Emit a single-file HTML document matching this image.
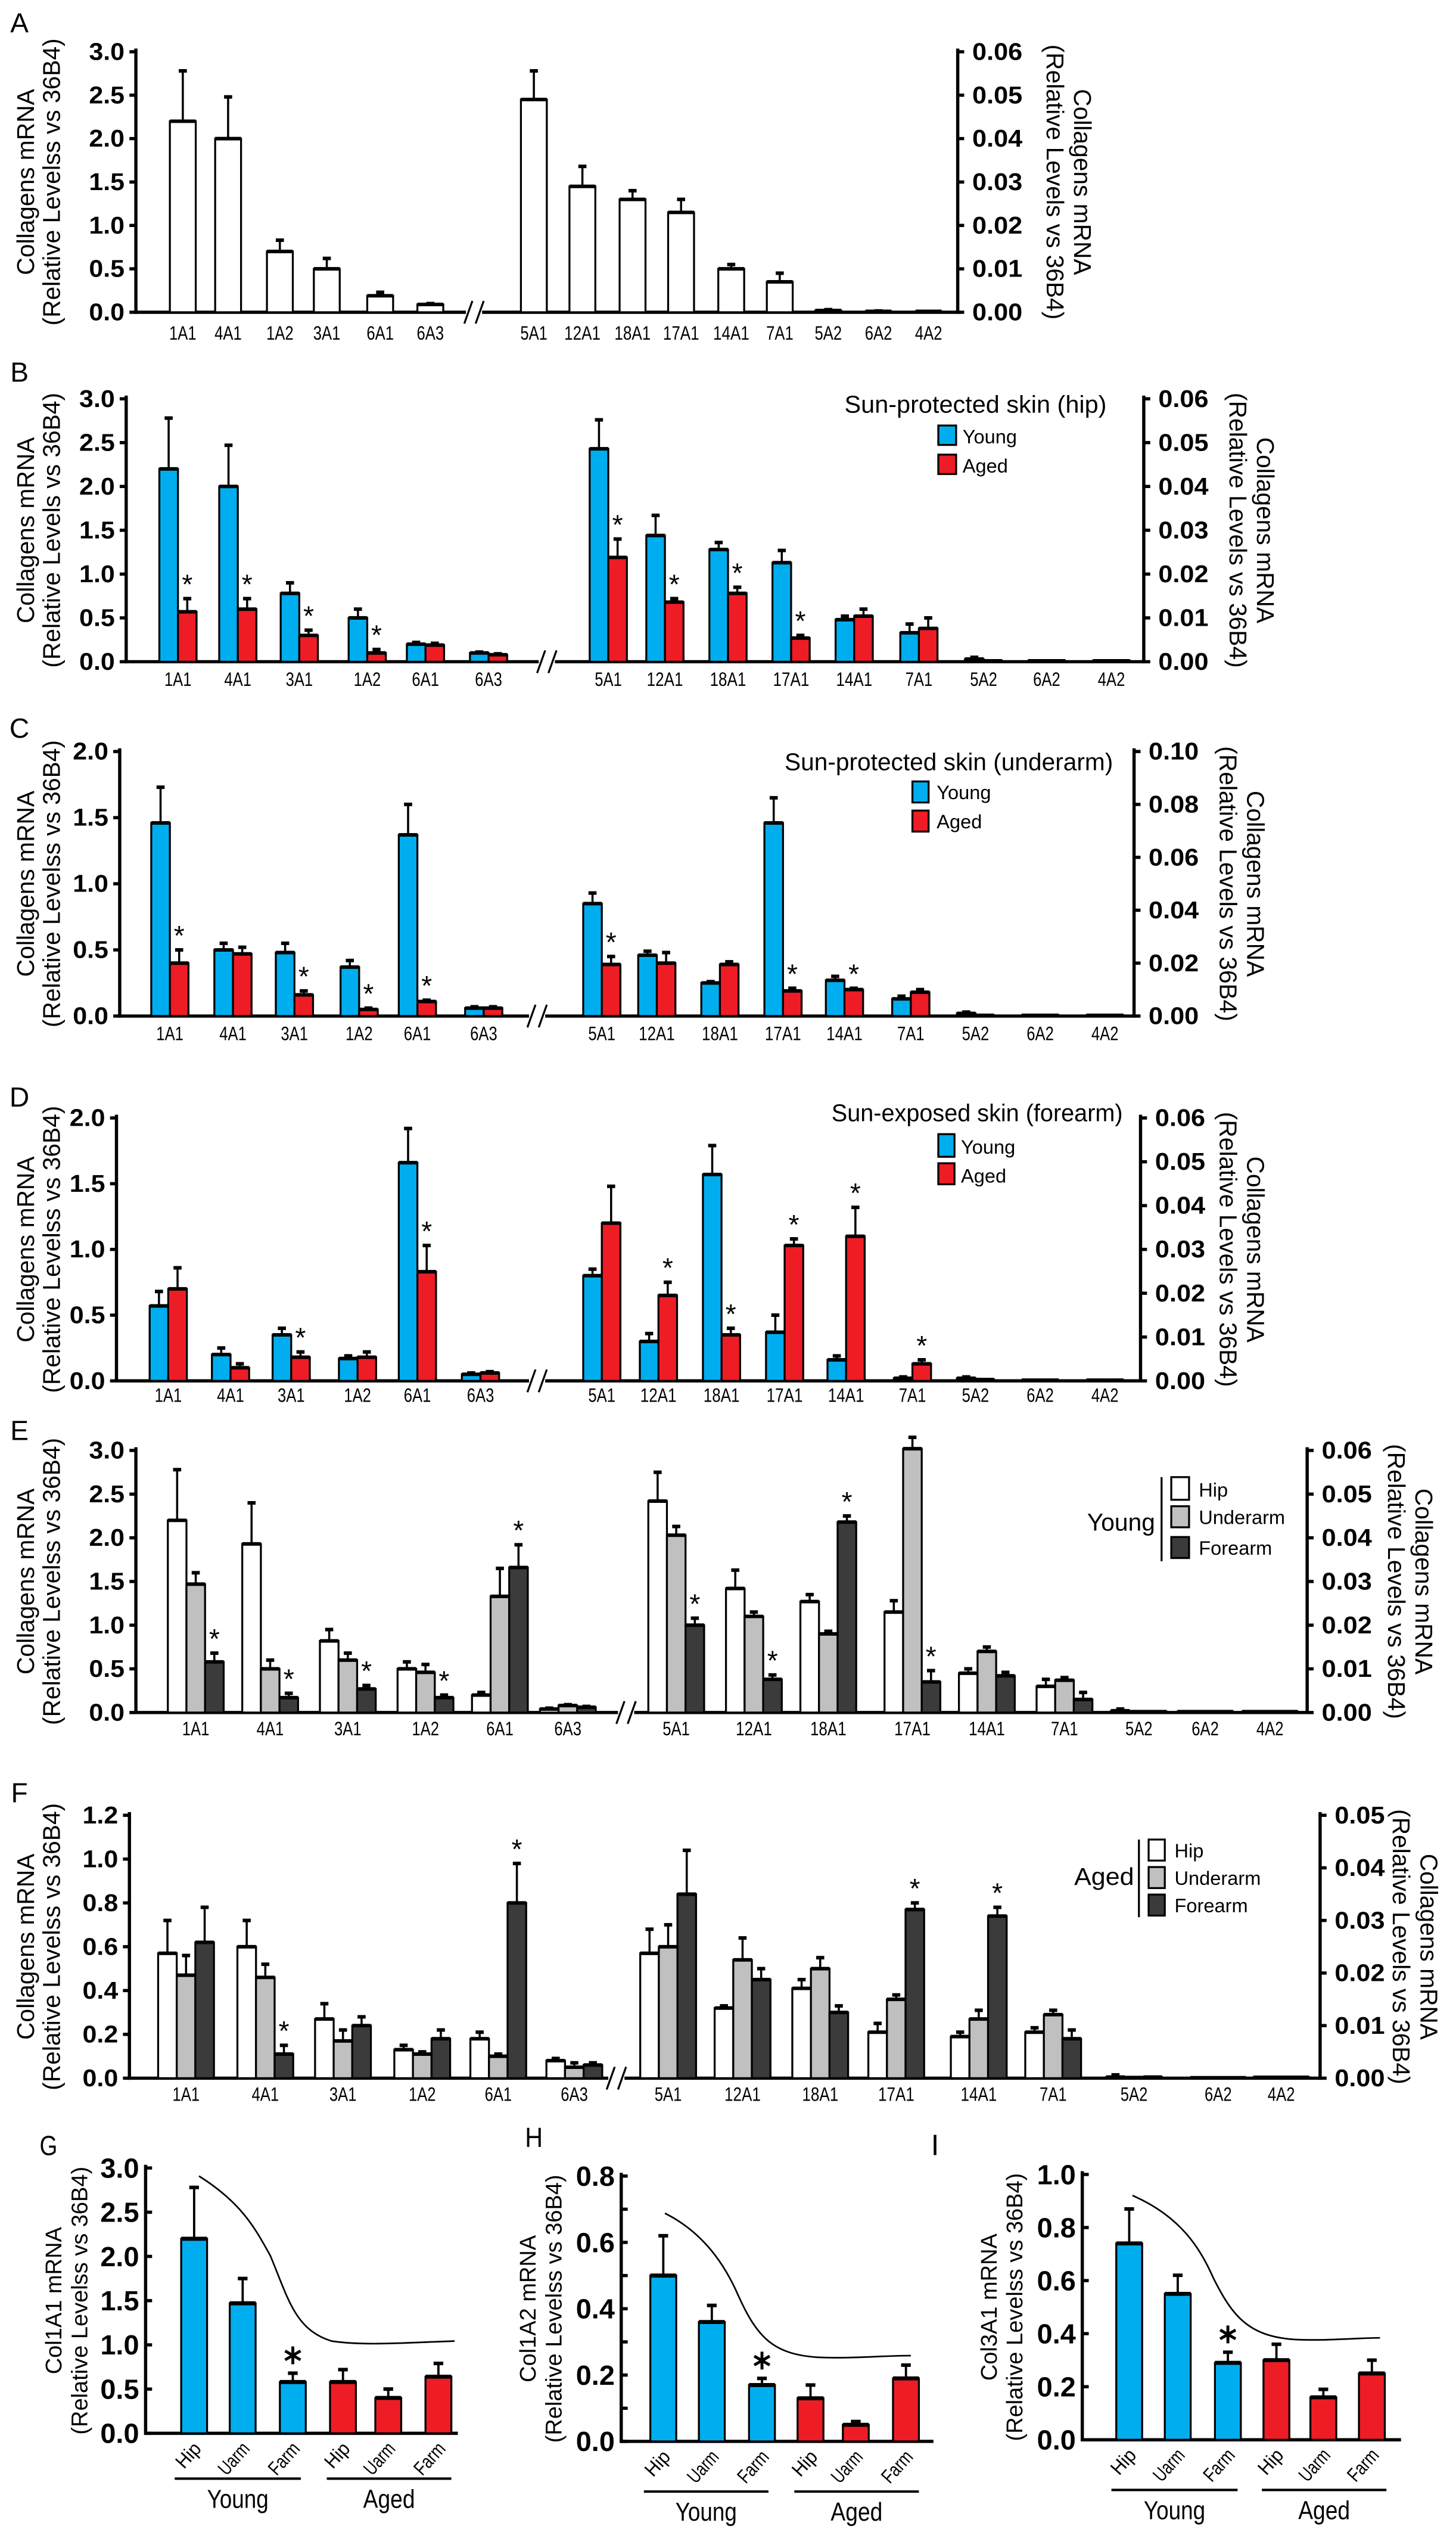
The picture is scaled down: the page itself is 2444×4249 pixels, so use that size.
<!DOCTYPE html>
<html><head><meta charset="utf-8"><style>
html,body{margin:0;padding:0;background:#fff}
svg{display:block}
text{font-family:"Liberation Sans",sans-serif}
</style></head><body>
<svg id="s" xmlns="http://www.w3.org/2000/svg" width="2444" height="4249" viewBox="0 0 900 1565" preserveAspectRatio="none"></svg>
<script>
const S=document.getElementById('s');let h='';
function T(x,y,t,o){o=o||{};h+=`<text x="${x}" y="${y}" font-size="${o.fs||12}" ${o.b?'font-weight="bold"':''} text-anchor="${o.a||'middle'}" ${o.r!=null?`transform="rotate(${o.r} ${x} ${y})"`:''} ${o.f?`font-family="${o.f}"`:''} ${o.sx?`textLength="${o.sx}" lengthAdjust="spacingAndGlyphs"`:''}>${t}</text>`;}
function L(x1,y1,x2,y2,w){h+=`<line x1="${x1}" y1="${y1}" x2="${x2}" y2="${y2}" stroke="#000" stroke-width="${w||1.5}"/>`;}
function R(x,y,w,hh,f){h+=`<rect x="${x}" y="${y}" width="${w}" height="${hh}" fill="${f}" stroke="#000" stroke-width="1.2"/>`;}
function star(cx,cy,r,w){L(cx,cy-r,cx,cy+r,w);const dx=r*0.866,dy=r*0.5;L(cx-dx,cy-dy,cx+dx,cy+dy,w);L(cx-dx,cy+dy,cx+dx,cy-dy,w);}
function panel(o){
 const sc=v=>o.y0-(v/o.max)*(o.y0-o.yt);
 L(o.xl,o.yt-2,o.xl,o.y0+1,2);L(o.xl,o.y0,o.xr,o.y0,2);
 L(o.xr,o.yt-2,o.xr,o.y0+1,2);
 o.lt.forEach(v=>{const y=sc(v);L(o.xl-4,y,o.xl,y,2);T(o.xl-7,y+5,v.toFixed(1),{fs:15,b:1,a:'end',sx:22});});
 o.rt.forEach((l,i)=>{const y=sc(o.max*i/(o.rt.length-1));L(o.xr,y,o.xr+4,y,2);T(o.xr+9,y+5,l,{fs:15,b:1,a:'start',sx:31});});
 const n=o.colors.length,bw=o.bw;
 o.cats.forEach(c=>{
  const x0=c.x-n*bw/2;
  c.v.forEach((d,i)=>{const [v,e,st]=d;const x=x0+i*bw;const y=sc(v);R(x,y,bw,o.y0-y,o.colors[i]);
   L(x,y,x+bw,y,2.2);
   if(e&&e>v){const ye=sc(e),cx=x+bw/2;L(cx,y,cx,ye,1.3);L(cx-2.5,ye,cx+2.5,ye,2.2);}
   if(st){T(x+bw/2,sc(e||v)-3,'*',{fs:17});}
  });
  T(c.x,o.y0+(o.ly||15),c.n,{fs:12,sx:c.n.length*5.6});
 });
 if(o.brk){h+=`<rect x="${o.brk-5}" y="${o.y0-3}" width="10" height="6" fill="#fff"/>`;L(o.brk-6,o.y0+7,o.brk-1,o.y0-7,1.2);L(o.brk+1,o.y0+7,o.brk+6,o.y0-7,1.2);}
 const cy=(o.yt+o.y0)/2;
 T(o.lx||21,cy,'Collagens mRNA',{fs:15,r:-90});T((o.lx||21)+16,cy,o.l2||'(Relative Levelss vs 36B4)',{fs:15,r:-90});
 T(o.rx,cy,'Collagens mRNA',{fs:15,r:90});T(o.rx-17,cy,'(Relative Levels vs 36B4)',{fs:15,r:90});
}
const mk=(names,xs,vals)=>names.map((n,i)=>({n,x:xs[i],v:vals[i]}));
const B='#00aeef',Rd='#ee1c25',W='#fff',G='#c0c0c1',D='#3b3b3b';
const N1=['1A1','4A1','1A2','3A1','6A1','6A3','5A1','12A1','18A1','17A1','14A1','7A1','5A2','6A2','4A2'];
const N2=['1A1','4A1','3A1','1A2','6A1','6A3','5A1','12A1','18A1','17A1','14A1','7A1','5A2','6A2','4A2'];
// A
T(12,20,'A',{fs:17});
panel({yt:32,y0:193,max:3,xl:84,xr:592,lt:[0,.5,1,1.5,2,2.5,3],rt:['0.00','0.01','0.02','0.03','0.04','0.05','0.06'],rx:664,bw:16,colors:[W],brk:293,ly:17,
cats:mk(N1,[113,141,173,202,235,266,330,360,391,421,452,482,512,543,574],
[[[2.2,2.78]],[[2,2.48]],[[.7,.83]],[[.5,.62]],[[.19,.23]],[[.09,.1]],[[2.45,2.78]],[[1.45,1.68]],[[1.3,1.4]],[[1.15,1.3]],[[.5,.55]],[[.35,.45]],[[.02,.03]],[[.01,.015]],[[.01,.01]]])});
// B
T(12,236,'B',{fs:17});
panel({yt:246.5,y0:409,max:3,xl:78,xr:707,lt:[0,.5,1,1.5,2,2.5,3],rt:['0.00','0.01','0.02','0.03','0.04','0.05','0.06'],rx:777,l2:'(Relative Levels vs 36B4)',bw:11.5,colors:[B,Rd],brk:338,ly:15,
cats:mk(N2,[110,147,185,227,263,302,376,411,450,489,528,568,608,647,687],
[[[2.2,2.78],[.57,.72,1]],[[2,2.47],[.6,.72,1]],[[.78,.9],[.3,.36,1]],[[.5,.6],[.1,.14,1]],[[.2,.22],[.19,.21]],[[.1,.11],[.08,.09]],
[[2.43,2.76],[1.19,1.4,1]],[[1.44,1.67],[.68,.72,1]],[[1.28,1.36],[.78,.85,1]],[[1.13,1.27],[.27,.3,1]],[[.48,.52],[.52,.6]],[[.33,.43],[.38,.5]],[[.03,.05],[.01,.01]],[[.01,.01],[.01,.01]],[[.01,.01],[.01,.01]]])});
T(522,255,'Sun-protected skin (hip)',{fs:15,a:'start',sx:162});
R(580,263,11,12,B);T(595,274,'Young',{fs:12,a:'start'});R(580,281,11,12,Rd);T(595,292,'Aged',{fs:12,a:'start'});
// C
T(12,456,'C',{fs:17});
panel({yt:464.5,y0:628,max:2,xl:74,xr:701,lt:[0,.5,1,1.5,2],rt:['0.00','0.02','0.04','0.06','0.08','0.10'],rx:771,bw:11.5,colors:[B,Rd],brk:332,ly:15,
cats:mk(N2,[105,144,182,222,258,299,372,406,445,484,522,563,603,643,683],
[[[1.46,1.73],[.4,.5,1]],[[.5,.55],[.47,.52]],[[.48,.55],[.16,.19,1]],[[.37,.42],[.05,.06,1]],[[1.37,1.6],[.11,.12,1]],[[.06,.07],[.06,.07]],
[[.85,.93],[.39,.45,1]],[[.46,.49],[.4,.48]],[[.25,.26],[.39,.41]],[[1.46,1.65],[.19,.21,1]],[[.27,.3],[.2,.21,1]],[[.13,.15],[.18,.2]],[[.02,.03],[.005,.005]],[[.005,.005],[.005,.005]],[[.005,.005],[.005,.005]]])});
T(485,476,'Sun-protected skin (underarm)',{fs:15,a:'start',sx:203});
R(564,483,10,13,B);T(579,494,'Young',{fs:12,a:'start'});R(564,501,10,13,Rd);T(579,512,'Aged',{fs:12,a:'start'});
// D
T(12,684,'D',{fs:17});
panel({yt:691,y0:853.5,max:2,xl:72,xr:705,lt:[0,.5,1,1.5,2],rt:['0.00','0.01','0.02','0.03','0.04','0.05','0.06'],rx:771,bw:11.5,colors:[B,Rd],brk:332,ly:13,
cats:mk(N2,[104,142.5,180,221,258,297,372,407,446,485,523,564,603,643,683],
[[[.57,.68],[.7,.86]],[[.2,.25],[.1,.13]],[[.35,.4],[.18,.22,1]],[[.17,.19],[.18,.22]],[[1.66,1.92],[.83,1.03,1]],[[.05,.06],[.06,.07]],
[[.8,.85],[1.2,1.48]],[[.3,.36],[.65,.75,1]],[[1.57,1.79],[.35,.4,1]],[[.37,.5],[1.03,1.08,1]],[[.16,.19],[1.1,1.32,1]],[[.02,.03],[.13,.16,1]],[[.02,.03],[.01,.01]],[[.005,.005],[.005,.005]],[[.005,.005],[.005,.005]]])});
T(514,693,'Sun-exposed skin (forearm)',{fs:15,a:'start',sx:180});
R(580,701,10,14,B);T(594,713,'Young',{fs:12,a:'start'});R(580,719,10,13,Rd);T(594,731,'Aged',{fs:12,a:'start'});
// E
T(12,890,'E',{fs:17});
panel({yt:896.5,y0:1058.5,max:3,xl:84,xr:808,lt:[0,.5,1,1.5,2,2.5,3],rt:['0.00','0.01','0.02','0.03','0.04','0.05','0.06'],rx:875,bw:11.5,colors:[W,G,D],brk:387,ly:14,
cats:mk(N2,[121,167,215,263,309,351,418,466,512,564,610,658,704,745,785],
[[[2.2,2.78],[1.47,1.6],[.58,.68,1]],[[1.93,2.4],[.5,.6],[.17,.22,1]],[[.82,.95],[.6,.68],[.27,.31,1]],[[.5,.58],[.46,.55],[.17,.2,1]],[[.2,.23],[1.33,1.65],[1.66,1.92,1]],[[.04,.05],[.08,.09],[.06,.07]],
[[2.42,2.75],[2.03,2.13],[1,1.08,1]],[[1.42,1.63],[1.1,1.15],[.38,.43,1]],[[1.27,1.35],[.9,.93],[2.18,2.25,1]],[[1.15,1.28],[3.02,3.15],[.35,.48,1]],[[.45,.5],[.7,.75],[.42,.46]],[[.3,.38],[.37,.4],[.15,.23]],[[.02,.04],[.01,.01],[.01,.01]],[[.01,.01],[.01,.01],[.01,.01]],[[.01,.01],[.01,.01],[.01,.01]]])});
T(672,946,'Young',{fs:15,a:'start',sx:42});L(718,913,718,965,1.2);
R(724,913,11,14,W);T(741,925,'Hip',{fs:12,a:'start'});R(724,931,11,13,G);T(741,942,'Underarm',{fs:12,a:'start'});R(724,950,11,13,D);T(741,961,'Forearm',{fs:12,a:'start'});
// F
T(12,1114,'F',{fs:17});
panel({yt:1122,y0:1284.5,max:1.2,xl:80,xr:816,lt:[0,.2,.4,.6,.8,1,1.2],rt:['0.00','0.01','0.02','0.03','0.04','0.05'],rx:878,bw:11.5,colors:[W,G,D],brk:381,ly:14,
cats:mk(N2,[115,164,212,261,308,355,413,459,507,554,605,651,701,753,792],
[[[.57,.72],[.47,.56],[.62,.78]],[[.6,.72],[.46,.52],[.11,.15,1]],[[.27,.34],[.17,.22],[.24,.28]],[[.13,.15],[.11,.12],[.18,.22]],[[.18,.21],[.1,.11],[.8,.98,1]],[[.08,.09],[.05,.07],[.06,.07]],
[[.57,.68],[.6,.7],[.84,1.04]],[[.32,.33],[.54,.64],[.45,.5]],[[.41,.45],[.5,.55],[.3,.33]],[[.21,.25],[.36,.38],[.77,.8,1]],[[.19,.21],[.27,.31],[.74,.78,1]],[[.21,.23],[.29,.31],[.18,.22]],[[.005,.015],[.003,.003],[.005,.005]],[[.002,.002],[.002,.002],[.002,.002]],[[.004,.004],[.004,.004],[.004,.004]]])});
T(664,1165,'Aged',{fs:15,a:'start',sx:37});L(704,1137,704,1185,1.2);
R(710,1137,10,13,W);T(726,1148,'Hip',{fs:12,a:'start'});R(710,1154,10,13,G);T(726,1165,'Underarm',{fs:12,a:'start'});R(710,1171,10,13,D);T(726,1182,'Forearm',{fs:12,a:'start'});
// G H I
function small(o){
 const sc=v=>o.y0-(v/o.max)*(o.y0-o.yt);
 L(o.xl,o.yt-2,o.xl,o.y0+1,2);L(o.xl,o.y0,o.xr,o.y0,2);
 o.minor.forEach(v=>{L(o.xl,sc(v),o.xl+4,sc(v),2);});
 o.lt.forEach(v=>{const y=sc(v);L(o.xl,y,o.xl+4,y,2);T(o.xl-4,y+6,v.toFixed(1),{fs:17,b:1,a:'end',sx:24});});
 const cols=[B,B,B,Rd,Rd,Rd],lab=['Hip','Uarm','Farm','Hip','Uarm','Farm'];
 o.bars.forEach((d,i)=>{const x=o.xs[i]-8,y=sc(d[0]);R(x,y,16,o.y0-y,cols[i]);L(x,y,x+16,y,2.5);
  const ye=sc(d[1]);L(x+8,y,x+8,ye,1.4);L(x+5,ye,x+11,ye,2.2);
  if(d[2])star(x+8,ye-11,5.5,1.8);
  const lx=o.xs[i]+5,ly=o.y0+10;T(lx,ly,lab[i],{fs:12,r:-48,a:'end',sx:lab[i].length*5.6});});
 h+=`<path d="${o.curve}" fill="none" stroke="#000" stroke-width="1"/>`;
 L(o.ly1[0],o.lyy,o.ly1[1],o.lyy,1.5);L(o.ly2[0],o.lyy,o.ly2[1],o.lyy,1.5);
 T((o.ly1[0]+o.ly1[1])/2,o.lyy+18,'Young',{fs:16,sx:38});T((o.ly2[0]+o.ly2[1])/2,o.lyy+18,'Aged',{fs:16,sx:32});
 const cy=(o.yt+o.y0)/2;T(o.xl-o.lo,cy,o.l1,{fs:14,r:-90});T(o.xl-o.lo+16,cy,'(Relative Levelss vs 36B4)',{fs:14,r:-90});
}
T(30,1332,'G',{fs:17,sx:11});T(330,1327,'H',{fs:17,sx:11});T(578,1332,'I',{fs:18,f:'Liberation Serif, serif'});
small({xl:90,xr:283,yt:1340,y0:1504,max:3,lo:52,lt:[0,.5,1,1.5,2,2.5,3],minor:[],xs:[120,150,181,212,240,271],
 bars:[[2.2,2.78],[1.47,1.75],[.58,.68,1],[.58,.72],[.4,.5],[.64,.79]],
 curve:'M123,1345 C150,1362 158,1378 167,1394 C178,1420 182,1440 205,1447 C225,1450 250,1448 281,1447',
 ly1:[108,186],ly2:[202,279],lyy:1532,l1:'Col1A1 mRNA'});
small({xl:384,xr:577,yt:1345,y0:1509,max:.8,lo:53,lt:[0,.2,.4,.6,.8],minor:[.1,.3,.5,.7],xs:[410,440,471,501,529,560],
 bars:[[.5,.62],[.36,.41],[.17,.19,1],[.13,.17],[.05,.06],[.19,.23]],
 curve:'M411,1368 C435,1380 448,1400 456,1418 C468,1445 478,1455 505,1457 C525,1458 545,1456 563,1456',
 ly1:[398,475],ly2:[491,568],lyy:1540,l1:'Col1A2 mRNA'});
small({xl:669,xr:866,yt:1344,y0:1508,max:1,lo:53,lt:[0,.2,.4,.6,.8,1],minor:[],xs:[698,728,759,789,818,848],
 bars:[[.74,.87],[.55,.62],[.29,.33,1],[.3,.36],[.16,.19],[.25,.3]],
 curve:'M700,1357 C730,1370 742,1390 750,1408 C762,1432 772,1444 800,1446 C820,1447 840,1445 853,1445',
 ly1:[687,765],ly2:[780,857],lyy:1539,l1:'Col3A1 mRNA'});
S.innerHTML=h;
</script>
</body></html>
